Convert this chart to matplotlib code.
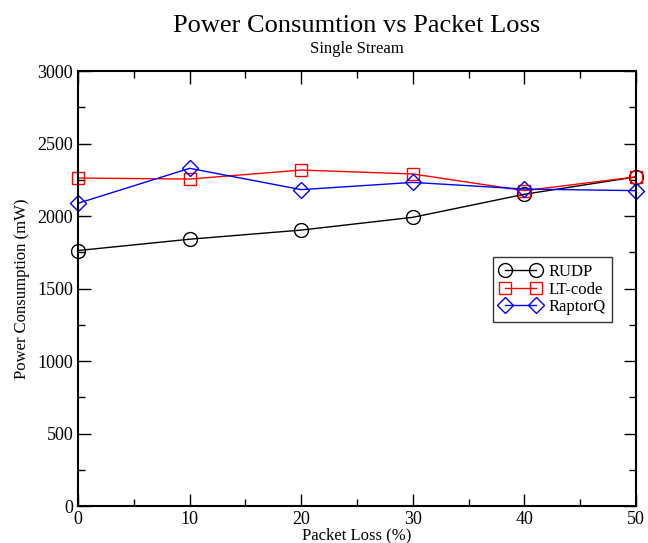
import matplotlib.pyplot as plt
from matplotlib.ticker import MultipleLocator

plt.rcParams['font.family'] = ['Liberation Serif', 'DejaVu Serif']

# packet loss (%) and power consumption (mW)
loss = [0, 10, 20, 30, 40, 50]
rudp = [1762, 1840, 1903, 1991, 2150, 2270]
ltcode = [2262, 2255, 2317, 2290, 2175, 2270]
raptorq = [2088, 2329, 2182, 2232, 2186, 2175]

fig = plt.figure(figsize=(6.48, 5.43), dpi=100)
ax = fig.add_axes([0.1204, 0.0681, 0.8611, 0.8011])

ax.plot(loss, rudp, color='black', lw=1, marker='o', ms=10, mfc='none', mew=1, label='RUDP', clip_on=False)
ax.plot(loss, ltcode, color='red', lw=1, marker='s', ms=9, mfc='none', mew=1, label='LT-code', clip_on=False)
ax.plot(loss, raptorq, color='blue', lw=1, marker='D', ms=8, mfc='none', mew=1, label='RaptorQ', clip_on=False)

ax.set_xlim(0, 50)
ax.set_ylim(0, 3000)
ax.xaxis.set_major_locator(MultipleLocator(10))
ax.xaxis.set_minor_locator(MultipleLocator(5))
ax.yaxis.set_major_locator(MultipleLocator(500))
ax.yaxis.set_minor_locator(MultipleLocator(250))
ax.tick_params(which='both', direction='in', top=True, right=True, labelsize=13, width=1)
ax.tick_params(which='major', length=9)
ax.tick_params(which='minor', length=5)
for s in ax.spines.values():
    s.set_linewidth(1.5)

ax.set_xlabel('Packet Loss (%)', fontsize=12, labelpad=0)
ax.set_ylabel('Power Consumption (mW)', fontsize=12, labelpad=5)

fig.text(0.551, 0.953, 'Power Consumtion vs Packet Loss', ha='center', va='center', fontsize=19)
fig.text(0.551, 0.910, 'Single Stream', ha='center', va='center', fontsize=12)

leg = ax.legend(loc='upper left', bbox_to_anchor=(0.744, 0.572), fontsize=12, numpoints=2,
                frameon=True, fancybox=False, edgecolor='black', borderaxespad=0,
                handlelength=2.5, handletextpad=0.4, labelspacing=0.1, borderpad=0.4)
leg.get_frame().set_linewidth(1)

fig.savefig('out.png', dpi=100)
